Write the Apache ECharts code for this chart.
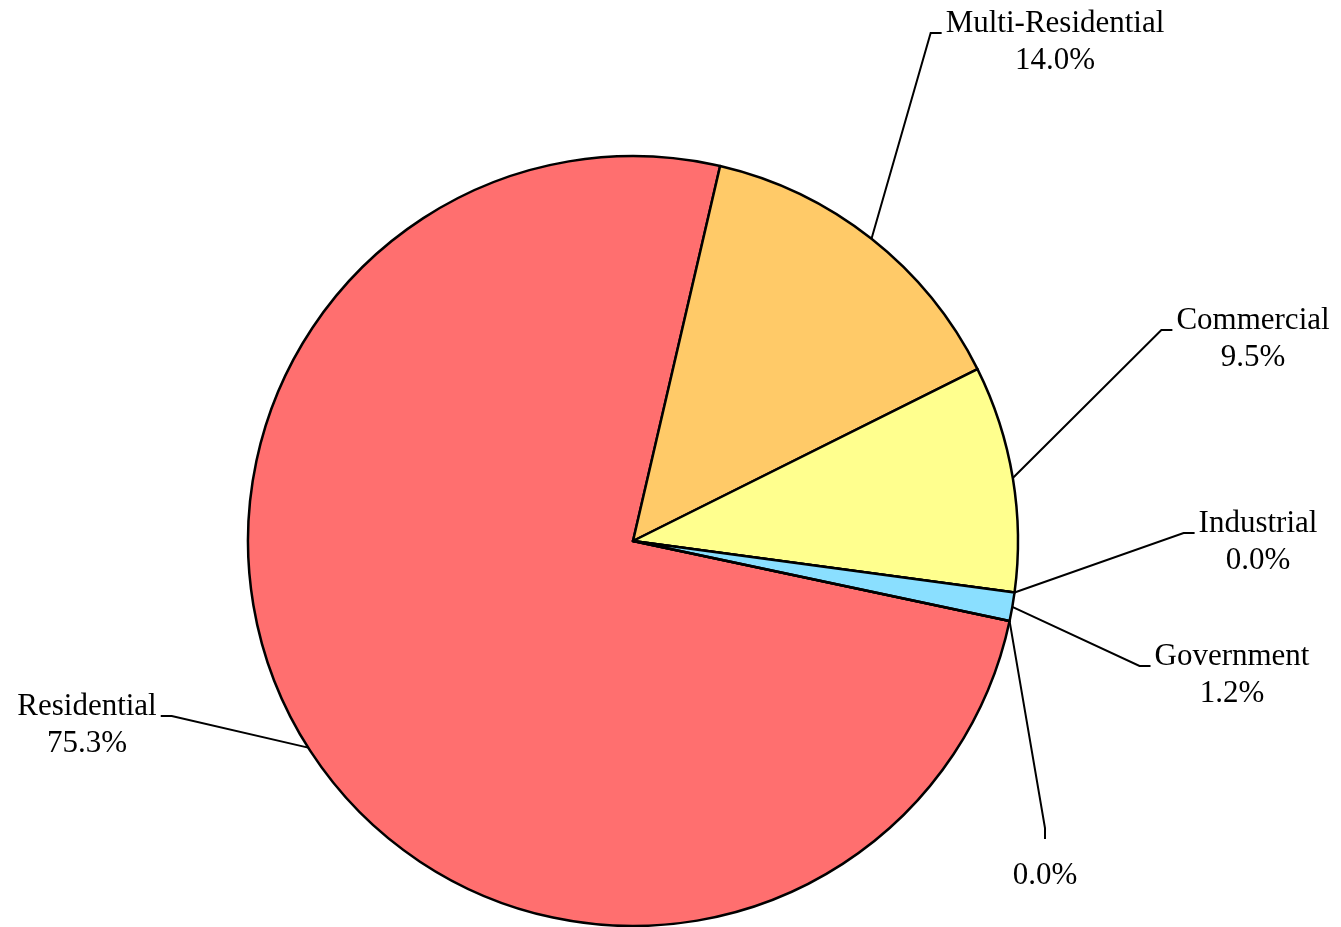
<!DOCTYPE html>
<html>
<head>
<meta charset="utf-8">
<title>Pie</title>
<script src="https://cdn.jsdelivr.net/npm/echarts@6/dist/echarts.min.js"></script>
<style>
  html, body { margin: 0; padding: 0; background: #fff; }
  #main { width: 1341px; height: 927px; }
</style>
</head>
<body>
<div id="main"></div>
<script>
// slice names and shares (%), clockwise from the Residential slice
var names = ['Residential', 'Multi-Residential', 'Commercial', 'Industrial', 'Government', ''];
var values = [75.3, 14.0, 9.5, 0.0, 1.2, 0.0];
var colors = ['#FF6F6F', '#FFCA68', '#FFFF8E', '#FFFF8E', '#8ADFFF', '#FF6F6F'];

// where each label block sits (centre x, y where the leader line meets it)
var labelSpots = [[87, 716], [1055, 33], [1253, 330], [1258, 533], [1232, 666], [1045, 885]];

var chart = echarts.init(document.getElementById('main'));

var pieData = names.map(function (n, i) {
    return {name: n, value: values[i], itemStyle: {color: colors[i]}};
});

chart.setOption({
    animation: false,
    series: [{
        type: 'pie',
        center: [633, 541],
        radius: 385,
        startAngle: -12,
        clockwise: true,
        percentPrecision: 1,
        avoidLabelOverlap: false,
        data: pieData,
        itemStyle: {borderColor: '#000', borderWidth: 2.5},
        emphasis: {disabled: true},
        label: {
            show: true,
            position: 'outside',
            fontFamily: 'Liberation Serif',
            fontSize: 31,
            lineHeight: 37,
            color: '#000',
            // transparent box so the padding counts in the label rect
            backgroundColor: 'rgba(255,255,255,0)',
            padding: [18, 4, 0, 4],
            formatter: function (p) {
                var pct = p.percent.toFixed(1) + '%';
                return p.name ? p.name + '\n' + pct : pct;
            }
        },
        labelLine: {
            show: true,
            length: 20,
            length2: 11,
            smooth: false,
            lineStyle: {color: '#000', width: 2}
        },
        labelLayout: function (params) {
            var s = labelSpots[params.dataIndex];
            return {x: s[0], y: s[1] - 46, align: 'center', verticalAlign: 'top'};
        }
    }]
});
</script>
</body>
</html>
